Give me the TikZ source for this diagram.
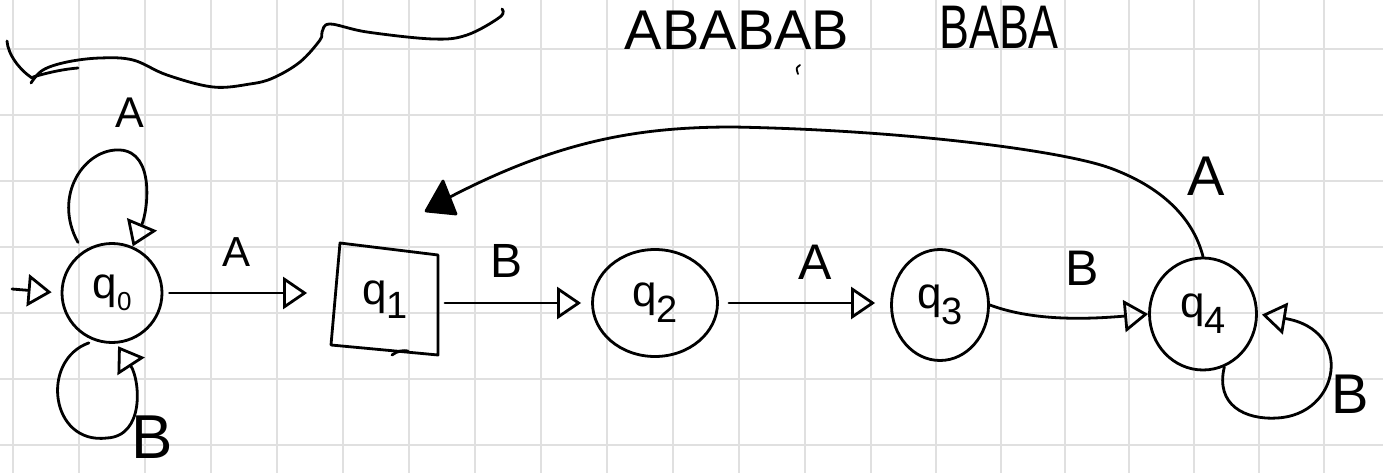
\documentclass[tikz,border=0pt]{standalone}
\usepackage{fontspec}
\setmainfont{Liberation Sans}
\usetikzlibrary{arrows.meta,shapes.geometric}
\newcommand\fsz[1]{\fontsize{#1}{#1}\selectfont}
\newcommand\qlab[3]{{\fsz{44}q}\raisebox{-#3}{\fsz{#2}#1}}
\begin{document}
\begin{tikzpicture}[x=1pt,y=1pt,
  gridline/.style={black!12, line width=1.8pt},
  hand/.style={line width=2.8pt, line cap=round, line join=round},
  st/.style={hand, draw, ellipse, inner sep=0pt},
  arr/.style={hand, -{Triangle[open, length=24pt, width=32pt, line width=2.8pt]}},
  lbl/.style={inner sep=0pt}]
\useasboundingbox (0,0) rectangle (1383,-473);
\fill[white] (0,0) rectangle (1383,-473);
% grid paper
\foreach \x in {13,79,145,211,277,343,409,475,541,607,673,739,805,871,936,1001,1065,1129,1194,1259,1324}
  \draw[gridline] (\x,0) -- (\x,-473);
\foreach \y in {49,115,181,247,313,379,445}
  \draw[gridline] (0,-\y) -- (1383,-\y);
% top-left squiggle
\draw[hand] (7,-41) .. controls (8,-55) and (20,-70) .. (32,-78);
\draw[hand] (33,-77) .. controls (50,-72) and (65,-69) .. (78,-68);
\draw[hand] plot[smooth, tension=0.6] coordinates {(31,-83) (43,-70) (67,-62) (100,-58) (133,-60) (167,-75) (213,-87) (250,-84) (273,-78) (300,-62) (320,-40) (322,-32) (330,-24) (367,-32) (433,-39) (467,-35) (500,-17) (502,-9)};
% top words
\node[lbl] (w1) at (737,-30) {\fsz{56}ABABAB};
\node[lbl] (w2) at (999,-27) {\fsz{56}\scalebox{0.8}[1.1]{BABA}};
\draw[hand, line width=1.8pt] (800,-65) .. controls (796,-68) .. (798,-74);
% states
\node[st, minimum width=100pt, minimum height=99pt] (q0) at (112,-293) {\qlab{0}{26}{12pt}};
\node[hand, rectangle, minimum width=105pt, minimum height=107pt, inner sep=0pt] (q1) at (385,-300) {\qlab{1}{38}{14pt}};
\draw[hand] (340,-243) -- (438,-255) -- (438,-355) -- (331,-345) -- cycle;
\draw[hand] (392,-355) .. controls (397,-351) and (403,-350) .. (408,-351);
\node[st, minimum width=125pt, minimum height=107pt] (q2) at (655,-303) {\qlab{2}{38}{16pt}};
\node[st, minimum width=97pt, minimum height=111pt] (q3) at (940,-305) {\qlab{3}{38}{16pt}};
\node[st, minimum width=107pt, minimum height=112pt] (q4) at (1203,-314) {\qlab{4}{38}{16pt}};
% initial arrow
\coordinate (init) at (12,-289);
\draw[arr, shorten >=9pt] (init) -- (q0.west);
% self loops on q0
\draw[arr, shorten <=10pt] (q0.125) .. controls (52,-195) and (85,-148) .. (120,-150) .. controls (155,-152) and (148,-210) .. (q0.66);
\draw[arr, shorten <=6pt, shorten >=3pt] (q0.-110) .. controls (40,-360) and (50,-445) .. (107,-438) .. controls (145,-436) and (140,-380) .. (q0.-85);
\node[lbl] (lA0) at (130,-113) {\fsz{43}A};
\node[lbl] (lB0) at (152,-437) {\fsz{62}B};
% transitions
\draw[arr, shorten <=6pt, shorten >=24pt] (q0.east) -- (q1.west |- q0.east);
\node[lbl] (lA01) at (237,-252) {\fsz{42}A};
\draw[arr, shorten <=6pt, shorten >=10pt] (q1.east |- q2.west) -- (q2.west);
\node[lbl] (lB12) at (507,-261) {\fsz{48}B};
\draw[arr, shorten <=10pt, shorten >=15pt] (q2.east) -- (q3.west |- q2.east);
\node[lbl] (lA23) at (815,-262) {\fsz{50}A};
\draw[arr] (q3.east) .. controls (1030,-320) and (1080,-320) .. (q4.west);
\node[lbl] (lB34) at (1082,-268) {\fsz{50}B};
% q4 self loop
\draw[arr, shorten >=4pt] (q4.-68) .. controls (1215,-405) and (1245,-420) .. (1277,-418) .. controls (1340,-415) and (1355,-330) .. (q4.east);
\node[lbl] (lB4) at (1350,-394) {\fsz{56}B};
% long arc back towards q1
\coordinate (back) at (450,-197);
\draw[hand] (q4.north) .. controls (1195,-225) and (1170,-190) .. (1110,-168) .. controls (1060,-150) and (900,-130) .. (733,-127) .. controls (640,-127) and (560,-140) .. (back);
\fill[hand, draw] (443,-181) -- (426,-211) -- (456,-214) -- cycle;
\node[lbl] (lA41) at (1206,-176) {\fsz{56}A};
\end{tikzpicture}
\end{document}
